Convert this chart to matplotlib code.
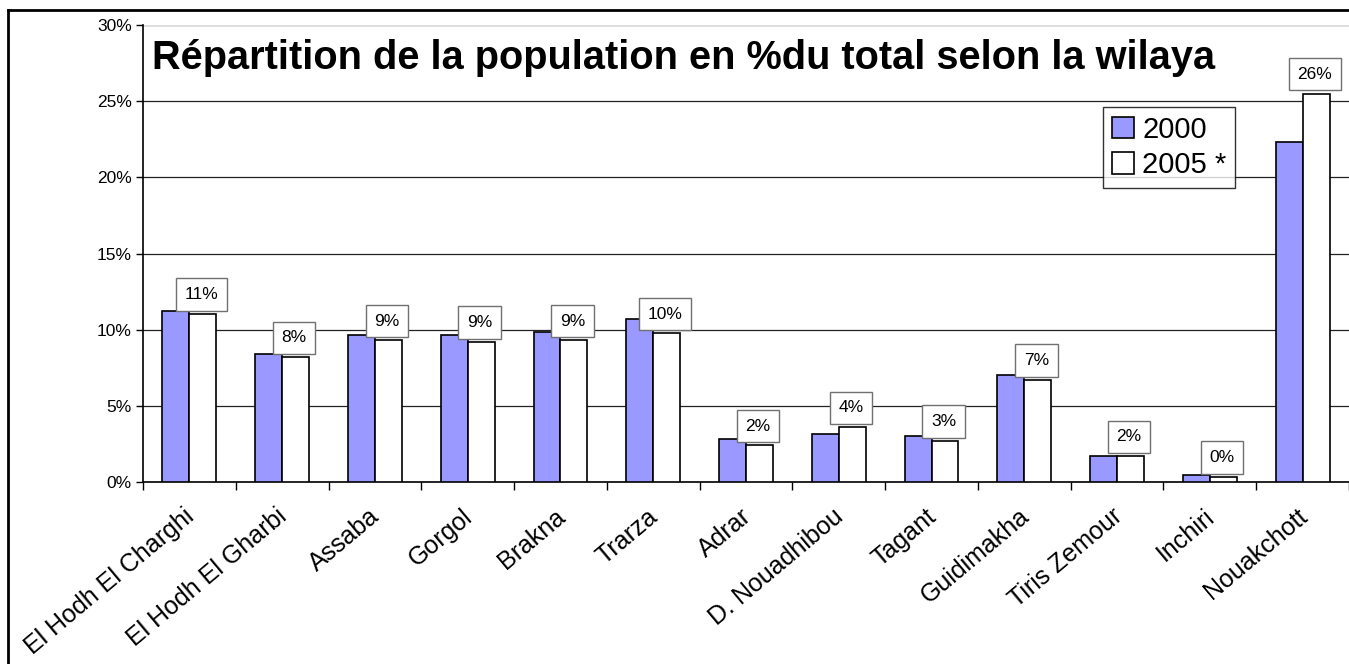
import matplotlib
matplotlib.use("Agg")
import matplotlib.pyplot as plt
import matplotlib.transforms as mtransforms
from matplotlib.lines import Line2D
import numpy as np

plt.rcParams['font.family'] = ['Liberation Sans', 'DejaVu Sans']

wilayas = ["El Hodh El Charghi", "El Hodh El Gharbi", "Assaba", "Gorgol", "Brakna",
           "Trarza", "Adrar", "D. Nouadhibou", "Tagant", "Guidimakha",
           "Tiris Zemour", "Inchiri", "Nouakchott"]
pop_2000 = [11.2, 8.4, 9.65, 9.65, 9.85, 10.7, 2.8, 3.15, 3.05, 7.05, 1.7, 0.45, 22.3]
pop_2005 = [11.05, 8.2, 9.3, 9.2, 9.3, 9.75, 2.4, 3.6, 2.7, 6.7, 1.7, 0.35, 25.5]
labels_2005 = ["11%", "8%", "9%", "9%", "9%", "10%", "2%", "4%", "3%", "7%", "2%", "0%", "26%"]
yticks = [0, 5, 10, 15, 20, 25, 30]

W, H = 1349, 664
fig = plt.figure(figsize=(W / 100, H / 100), dpi=100)
ax = fig.add_axes([143 / W, 1 - 482 / H, (W - 143) / W, (482 - 25) / H])

x = np.arange(len(wilayas))
bw = 0.29
ax.bar(x - bw / 2, pop_2000, bw, color="#9999FF", edgecolor="black", linewidth=1.2,
       label="2000", zorder=3)
ax.bar(x + bw / 2, pop_2005, bw, color="white", edgecolor="black", linewidth=1.2,
       label="2005 *", zorder=3)

for i, (v, lab) in enumerate(zip(pop_2005, labels_2005)):
    ax.annotate(lab, (x[i] + bw / 2, v), xytext=(-1, 8.5), textcoords="offset points",
                ha="center", va="bottom", fontsize=12.5, zorder=5,
                bbox=dict(boxstyle="square,pad=0.5", fc="white", ec="#707070", lw=1))

ax.set_xlim(-0.5, len(wilayas) - 0.5)
ax.set_ylim(0, 30)
ax.set_yticks(yticks)
ax.set_yticklabels([f"{t}%" for t in yticks], fontsize=12.5)
ax.tick_params(axis="y", length=5, width=1, pad=3)
ax.yaxis.grid(True, color="#222222", linewidth=0.9, zorder=0)
ax.set_axisbelow(True)

ax.set_xticks(np.arange(len(wilayas) + 1) - 0.5)
ax.set_xticklabels([])
ax.tick_params(axis="x", which="major", length=6, width=1)
ax.set_xticks(x, minor=True)
ax.set_xticklabels(wilayas, minor=True, rotation=40, ha="right",
                   rotation_mode="anchor", fontsize=18)
ax.tick_params(axis="x", which="minor", length=0, pad=16)
shift = mtransforms.ScaledTranslation(-6 / 100, 0, fig.dpi_scale_trans)
for t in ax.get_xticklabels(minor=True):
    t.set_transform(t.get_transform() + shift)

for s in ["top", "right"]:
    ax.spines[s].set_visible(False)
ax.spines["left"].set_linewidth(1.2)
ax.spines["bottom"].set_linewidth(1.2)
ax.axhline(30, color="#dddddd", linewidth=1, zorder=1)

fig.text(152 / W, 1 - 58 / H, "Répartition de la population en %du total selon la wilaya",
         fontsize=28.6, fontweight="bold", va="center", ha="left")

leg = ax.legend(loc="upper left", bbox_to_anchor=((1103 - 143) / (W - 143), (482 - 107) / (482 - 25)),
                fontsize=21, frameon=True, fancybox=False, handlelength=0.75, handleheight=0.75,
                handletextpad=0.3, borderpad=0.3, labelspacing=0.25, borderaxespad=0)
leg.get_frame().set_edgecolor("black")
leg.get_frame().set_linewidth(1)

fig.add_artist(Line2D([8 / W, 8 / W], [0, 1 - 10 / H], color="black", lw=2, transform=fig.transFigure))
fig.add_artist(Line2D([8 / W, 1], [1 - 10 / H, 1 - 10 / H], color="black", lw=2, transform=fig.transFigure))

fig.savefig("out.png", dpi=100)
